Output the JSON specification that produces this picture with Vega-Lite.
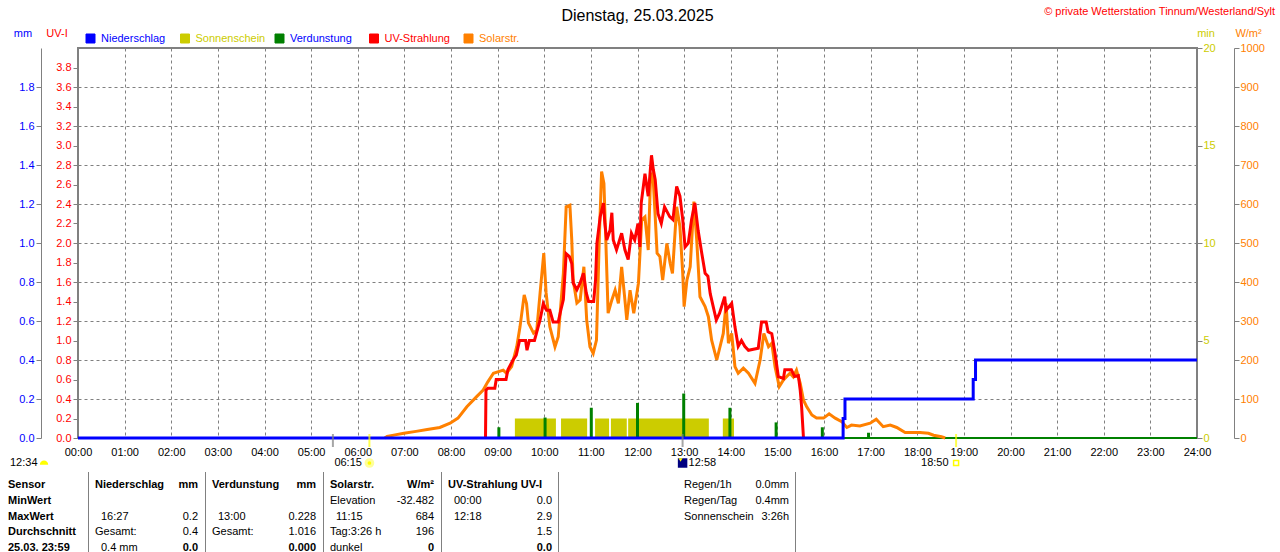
{
  "$schema": "https://vega.github.io/schema/vega-lite/v6.json",
  "width": 1119,
  "height": 390,
  "autosize": {"type": "none"},
  "padding": {"left": 78, "top": 48, "right": 83, "bottom": 114},
  "background": "#ffffff",
  "title": {"text": "Dienstag, 25.03.2025", "fontSize": 16, "fontWeight": "normal", "font": "Liberation Sans", "color": "#000000", "anchor": "middle", "frame": "group", "offset": -18},
  "config": {
    "font": "Liberation Sans",
    "view": {"stroke": "#808080", "strokeWidth": 2},
    "axis": {"labelFont": "Liberation Sans", "titleFont": "Liberation Sans", "labelFontSize": 11, "titleFontSize": 11, "titleFontWeight": "normal", "domainColor": "#808080", "tickColor": "#808080", "gridColor": "#808080", "gridOpacity": 1, "labelOverlap": false, "labelFlush": false, "labelBound": false},
    "legend": {"labelFont": "Liberation Sans", "labelFontSize": 11},
    "text": {"font": "Liberation Sans", "fontSize": 11}
  },
  "resolve": {"scale": {"x": "independent", "y": "independent"}, "axis": {"x": "independent", "y": "independent"}},
  "datasets": {
    "sonnenschein": [
      {"beginn": 9.37, "ende": 10.25, "minuten": 1},
      {"beginn": 10.36, "ende": 10.92, "minuten": 1},
      {"beginn": 11.09, "ende": 11.39, "minuten": 1},
      {"beginn": 11.43, "ende": 11.77, "minuten": 1},
      {"beginn": 11.8, "ende": 13.53, "minuten": 1},
      {"beginn": 13.83, "ende": 14.07, "minuten": 1}
    ],
    "verdunstung": [
      {"h": 9, "mm": 0.055}, {"h": 10, "mm": 0.105}, {"h": 11, "mm": 0.155}, {"h": 12, "mm": 0.18},
      {"h": 13, "mm": 0.228}, {"h": 14, "mm": 0.155}, {"h": 15, "mm": 0.08}, {"h": 16, "mm": 0.055}, {"h": 17, "mm": 0.027}
    ],
    "solar": [
      {"h": 6.58, "w": 0}, {"h": 6.63, "w": 4}, {"h": 6.8, "w": 8}, {"h": 6.99, "w": 12}, {"h": 7.25, "w": 17},
      {"h": 7.49, "w": 22}, {"h": 7.76, "w": 27}, {"h": 7.98, "w": 38}, {"h": 8.15, "w": 51}, {"h": 8.34, "w": 80},
      {"h": 8.55, "w": 106}, {"h": 8.69, "w": 123}, {"h": 8.79, "w": 144}, {"h": 8.91, "w": 166}, {"h": 9.12, "w": 174},
      {"h": 9.19, "w": 166}, {"h": 9.3, "w": 183}, {"h": 9.41, "w": 234}, {"h": 9.48, "w": 285}, {"h": 9.57, "w": 367},
      {"h": 9.62, "w": 345}, {"h": 9.66, "w": 295}, {"h": 9.77, "w": 269}, {"h": 9.84, "w": 277}, {"h": 9.91, "w": 371},
      {"h": 9.99, "w": 474}, {"h": 10.04, "w": 372}, {"h": 10.12, "w": 285}, {"h": 10.23, "w": 234}, {"h": 10.3, "w": 260},
      {"h": 10.41, "w": 422}, {"h": 10.47, "w": 593}, {"h": 10.55, "w": 597}, {"h": 10.59, "w": 508}, {"h": 10.62, "w": 405},
      {"h": 10.7, "w": 346}, {"h": 10.77, "w": 354}, {"h": 10.85, "w": 439}, {"h": 10.91, "w": 303}, {"h": 10.98, "w": 234},
      {"h": 11.05, "w": 217}, {"h": 11.12, "w": 251}, {"h": 11.18, "w": 508}, {"h": 11.23, "w": 683}, {"h": 11.28, "w": 653},
      {"h": 11.32, "w": 508}, {"h": 11.37, "w": 320}, {"h": 11.45, "w": 354}, {"h": 11.52, "w": 379}, {"h": 11.59, "w": 345},
      {"h": 11.66, "w": 439}, {"h": 11.73, "w": 354}, {"h": 11.77, "w": 303}, {"h": 11.84, "w": 379}, {"h": 11.92, "w": 320},
      {"h": 12.02, "w": 397}, {"h": 12.09, "w": 559}, {"h": 12.16, "w": 567}, {"h": 12.23, "w": 482}, {"h": 12.28, "w": 670},
      {"h": 12.33, "w": 679}, {"h": 12.38, "w": 567}, {"h": 12.42, "w": 474}, {"h": 12.48, "w": 465}, {"h": 12.54, "w": 405},
      {"h": 12.63, "w": 499}, {"h": 12.7, "w": 448}, {"h": 12.75, "w": 422}, {"h": 12.84, "w": 593}, {"h": 12.91, "w": 542},
      {"h": 12.97, "w": 422}, {"h": 13.0, "w": 337}, {"h": 13.06, "w": 405}, {"h": 13.13, "w": 439}, {"h": 13.21, "w": 606},
      {"h": 13.27, "w": 508}, {"h": 13.34, "w": 362}, {"h": 13.45, "w": 337}, {"h": 13.52, "w": 311}, {"h": 13.59, "w": 251},
      {"h": 13.7, "w": 200}, {"h": 13.77, "w": 234}, {"h": 13.84, "w": 268}, {"h": 13.9, "w": 345}, {"h": 13.95, "w": 243},
      {"h": 14.02, "w": 268}, {"h": 14.09, "w": 183}, {"h": 14.16, "w": 166}, {"h": 14.27, "w": 179}, {"h": 14.38, "w": 166},
      {"h": 14.52, "w": 140}, {"h": 14.63, "w": 200}, {"h": 14.71, "w": 268}, {"h": 14.81, "w": 234}, {"h": 14.88, "w": 243},
      {"h": 14.95, "w": 183}, {"h": 15.04, "w": 132}, {"h": 15.13, "w": 149}, {"h": 15.27, "w": 166}, {"h": 15.34, "w": 157},
      {"h": 15.41, "w": 174}, {"h": 15.49, "w": 140}, {"h": 15.56, "w": 97}, {"h": 15.63, "w": 80}, {"h": 15.74, "w": 59},
      {"h": 15.84, "w": 51}, {"h": 15.99, "w": 51}, {"h": 16.11, "w": 62}, {"h": 16.24, "w": 51}, {"h": 16.38, "w": 42},
      {"h": 16.49, "w": 27}, {"h": 16.59, "w": 33}, {"h": 16.77, "w": 31}, {"h": 16.99, "w": 38}, {"h": 17.12, "w": 48},
      {"h": 17.27, "w": 29}, {"h": 17.42, "w": 33}, {"h": 17.56, "w": 27}, {"h": 17.74, "w": 14}, {"h": 18.06, "w": 14},
      {"h": 18.24, "w": 12}, {"h": 18.35, "w": 7}, {"h": 18.52, "w": 3}, {"h": 18.6, "w": 0}
    ],
    "uv": [
      {"h": 8.74, "uv": 0}, {"h": 8.75, "uv": 0.49}, {"h": 8.79, "uv": 0.51}, {"h": 8.94, "uv": 0.51}, {"h": 8.97, "uv": 0.6},
      {"h": 9.18, "uv": 0.6}, {"h": 9.22, "uv": 0.7}, {"h": 9.33, "uv": 0.8}, {"h": 9.4, "uv": 0.85}, {"h": 9.47, "uv": 1.0},
      {"h": 9.6, "uv": 1.0}, {"h": 9.63, "uv": 0.9}, {"h": 9.68, "uv": 1.0}, {"h": 9.79, "uv": 1.0}, {"h": 9.83, "uv": 1.07},
      {"h": 9.91, "uv": 1.21}, {"h": 9.98, "uv": 1.38}, {"h": 10.05, "uv": 1.31}, {"h": 10.12, "uv": 1.31}, {"h": 10.19, "uv": 1.19},
      {"h": 10.3, "uv": 1.19}, {"h": 10.35, "uv": 1.3}, {"h": 10.41, "uv": 1.42}, {"h": 10.47, "uv": 1.89}, {"h": 10.54, "uv": 1.86},
      {"h": 10.59, "uv": 1.79}, {"h": 10.62, "uv": 1.59}, {"h": 10.7, "uv": 1.52}, {"h": 10.77, "uv": 1.59}, {"h": 10.84, "uv": 1.69},
      {"h": 10.9, "uv": 1.49}, {"h": 10.95, "uv": 1.4}, {"h": 11.06, "uv": 1.4}, {"h": 11.1, "uv": 1.62}, {"h": 11.13, "uv": 2.0},
      {"h": 11.2, "uv": 2.27}, {"h": 11.27, "uv": 2.41}, {"h": 11.3, "uv": 2.2}, {"h": 11.34, "uv": 2.03}, {"h": 11.41, "uv": 2.13},
      {"h": 11.45, "uv": 2.31}, {"h": 11.48, "uv": 2.03}, {"h": 11.55, "uv": 1.93}, {"h": 11.66, "uv": 2.1}, {"h": 11.73, "uv": 1.93},
      {"h": 11.8, "uv": 1.83}, {"h": 11.87, "uv": 2.1}, {"h": 11.94, "uv": 2.03}, {"h": 12.01, "uv": 2.2}, {"h": 12.05, "uv": 1.96},
      {"h": 12.08, "uv": 2.41}, {"h": 12.16, "uv": 2.71}, {"h": 12.23, "uv": 2.48}, {"h": 12.3, "uv": 2.9}, {"h": 12.34, "uv": 2.75},
      {"h": 12.38, "uv": 2.65}, {"h": 12.44, "uv": 2.3}, {"h": 12.51, "uv": 2.2}, {"h": 12.58, "uv": 2.37}, {"h": 12.69, "uv": 2.27},
      {"h": 12.76, "uv": 2.24}, {"h": 12.84, "uv": 2.58}, {"h": 12.91, "uv": 2.48}, {"h": 12.97, "uv": 2.24}, {"h": 13.02, "uv": 1.96},
      {"h": 13.09, "uv": 2.0}, {"h": 13.16, "uv": 2.24}, {"h": 13.23, "uv": 2.41}, {"h": 13.3, "uv": 2.13}, {"h": 13.38, "uv": 1.89},
      {"h": 13.45, "uv": 1.69}, {"h": 13.51, "uv": 1.66}, {"h": 13.56, "uv": 1.48}, {"h": 13.69, "uv": 1.21}, {"h": 13.76, "uv": 1.28},
      {"h": 13.87, "uv": 1.45}, {"h": 13.9, "uv": 1.31}, {"h": 14.02, "uv": 1.38}, {"h": 14.09, "uv": 1.14}, {"h": 14.16, "uv": 0.94},
      {"h": 14.23, "uv": 1.0}, {"h": 14.3, "uv": 0.94}, {"h": 14.38, "uv": 0.9}, {"h": 14.59, "uv": 0.92}, {"h": 14.66, "uv": 1.19},
      {"h": 14.76, "uv": 1.19}, {"h": 14.8, "uv": 1.09}, {"h": 14.88, "uv": 1.07}, {"h": 14.95, "uv": 0.87}, {"h": 15.02, "uv": 0.63},
      {"h": 15.13, "uv": 0.61}, {"h": 15.16, "uv": 0.7}, {"h": 15.3, "uv": 0.7}, {"h": 15.37, "uv": 0.63}, {"h": 15.45, "uv": 0.64},
      {"h": 15.49, "uv": 0.49}, {"h": 15.52, "uv": 0.32}, {"h": 15.56, "uv": 0}
    ],
    "niederschlag": [
      {"h": 0, "mm": 0}, {"h": 16.41, "mm": 0.1}, {"h": 16.45, "mm": 0.2}, {"h": 19.2, "mm": 0.3}, {"h": 19.25, "mm": 0.4}, {"h": 24, "mm": 0.4}
    ],
    "ereignisse": [
      {"zeit": 5.467, "uhrzeit": "05:28", "art": "Mondaufgang"},
      {"zeit": 6.25, "uhrzeit": "06:15", "art": "Sonnenaufgang"},
      {"zeit": 12.967, "uhrzeit": "12:58", "art": "Monduntergang"},
      {"zeit": 18.833, "uhrzeit": "18:50", "art": "Sonnenuntergang"}
    ],
    "tabelle": [
      {"zeile": 0, "spalte": 0, "text": "Sensor"},
      {"zeile": 0, "spalte": 1, "text": "Niederschlag"},
      {"zeile": 0, "spalte": 2, "text": "mm"},
      {"zeile": 0, "spalte": 3, "text": "Verdunstung"},
      {"zeile": 0, "spalte": 4, "text": "mm"},
      {"zeile": 0, "spalte": 5, "text": "Solarstr."},
      {"zeile": 0, "spalte": 6, "text": "W/m²"},
      {"zeile": 0, "spalte": 7, "text": "UV-Strahlung UV-I"},
      {"zeile": 0, "spalte": 9, "text": "Regen/1h"},
      {"zeile": 0, "spalte": 10, "text": "0.0mm"},
      {"zeile": 1, "spalte": 0, "text": "MinWert"},
      {"zeile": 1, "spalte": 5, "text": "Elevation"},
      {"zeile": 1, "spalte": 6, "text": "-32.482"},
      {"zeile": 1, "spalte": 7, "text": "00:00"},
      {"zeile": 1, "spalte": 8, "text": "0.0"},
      {"zeile": 1, "spalte": 9, "text": "Regen/Tag"},
      {"zeile": 1, "spalte": 10, "text": "0.4mm"},
      {"zeile": 2, "spalte": 0, "text": "MaxWert"},
      {"zeile": 2, "spalte": 1, "text": "16:27"},
      {"zeile": 2, "spalte": 2, "text": "0.2"},
      {"zeile": 2, "spalte": 3, "text": "13:00"},
      {"zeile": 2, "spalte": 4, "text": "0.228"},
      {"zeile": 2, "spalte": 5, "text": "11:15"},
      {"zeile": 2, "spalte": 6, "text": "684"},
      {"zeile": 2, "spalte": 7, "text": "12:18"},
      {"zeile": 2, "spalte": 8, "text": "2.9"},
      {"zeile": 2, "spalte": 9, "text": "Sonnenschein"},
      {"zeile": 2, "spalte": 10, "text": "3:26h"},
      {"zeile": 3, "spalte": 0, "text": "Durchschnitt"},
      {"zeile": 3, "spalte": 1, "text": "Gesamt:"},
      {"zeile": 3, "spalte": 2, "text": "0.4"},
      {"zeile": 3, "spalte": 3, "text": "Gesamt:"},
      {"zeile": 3, "spalte": 4, "text": "1.016"},
      {"zeile": 3, "spalte": 5, "text": "Tag:3:26 h"},
      {"zeile": 3, "spalte": 6, "text": "196"},
      {"zeile": 3, "spalte": 8, "text": "1.5"},
      {"zeile": 4, "spalte": 0, "text": "25.03. 23:59"},
      {"zeile": 4, "spalte": 1, "text": "0.4 mm"},
      {"zeile": 4, "spalte": 2, "text": "0.0"},
      {"zeile": 4, "spalte": 4, "text": "0.000"},
      {"zeile": 4, "spalte": 5, "text": "dunkel"},
      {"zeile": 4, "spalte": 6, "text": "0"},
      {"zeile": 4, "spalte": 8, "text": "0.0"}
    ],
    "trenner_links": [{"spalte": 1}, {"spalte": 3}, {"spalte": 5}, {"spalte": 7}],
    "trenner_rechts": [{"spalte": 8}, {"spalte": 10}]
  },
  "layer": [
    {
      "data": {"name": "sonnenschein"},
      "mark": {"type": "rect"},
      "encoding": {
        "x": {"field": "beginn", "type": "quantitative", "scale": {"domain": [0, 24], "nice": false, "zero": false},
          "axis": {"orient": "bottom", "values": [0,1,2,3,4,5,6,7,8,9,10,11,12,13,14,15,16,17,18,19,20,21,22,23,24],
            "labelExpr": "(datum.value < 10 ? '0' : '') + datum.value + ':00'", "grid": true, "gridDash": [3, 3],
            "ticks": false, "domain": false, "labelPadding": 8, "title": null, "labelColor": "#000000"}},
        "x2": {"field": "ende"},
        "y": {"field": "minuten", "type": "quantitative", "scale": {"domain": [0, 20], "nice": false, "zero": true},
          "axis": {"orient": "right", "offset": 0, "values": [0, 5, 10, 15, 20], "title": "min", "titleColor": "#cccc00",
            "labelColor": "#cccc00", "domain": false, "tickSize": 5, "labelPadding": 1, "grid": false,
            "titleAngle": 0, "titleX": 8.5, "titleY": -15, "titleAlign": "center", "titleBaseline": "middle"}},
        "y2": {"datum": 0},
        "color": {"datum": "Sonnenschein", "type": "nominal",
          "scale": {"domain": ["Niederschlag", "Sonnenschein", "Verdunstung", "UV-Strahlung", "Solarstr."],
                    "range": ["#0000ff", "#cccc00", "#008000", "#ff0000", "#ff8000"]},
          "legend": {"title": null, "orient": "none", "legendX": 7, "legendY": -15, "direction": "horizontal",
            "columns": 5, "gridAlign": "all", "columnPadding": 7.5, "symbolType": "square", "symbolSize": 81,
            "symbolStrokeColor": "#000000", "symbolStrokeWidth": 1, "symbolOpacity": 1, "labelOffset": 5,
            "labelFontSize": 11, "padding": 0,
            "encode": {
              "symbols": {"update": {"fill": {"scale": "color", "field": "value"}, "stroke": {"value": "#000000"},
                "strokeWidth": {"value": 1}, "shape": {"value": "square"}, "opacity": {"value": 1}}},
              "labels": {"update": {"fill": {"signal": "datum.value === 'Verdunstung' ? '#0000ff' : scale('color', datum.value)"}}}
            }}}
      }
    },
    {
      "data": {"name": "verdunstung"},
      "mark": {"type": "bar", "width": 3},
      "encoding": {
        "x": {"field": "h", "type": "quantitative", "scale": {"domain": [0, 24], "nice": false, "zero": false}, "axis": null},
        "y": {"field": "mm", "type": "quantitative", "scale": {"domain": [0, 2], "nice": false}, "axis": null},
        "color": {"datum": "Verdunstung", "type": "nominal"}
      }
    },
    {
      "data": {"values": [{}]},
      "mark": {"type": "rule", "color": "#008000", "strokeWidth": 2},
      "encoding": {
        "y": {"datum": 0, "type": "quantitative", "scale": {"domain": [0, 2], "nice": false}, "axis": null}
      }
    },
    {
      "data": {"name": "solar"},
      "mark": {"type": "line", "strokeWidth": 3},
      "encoding": {
        "x": {"field": "h", "type": "quantitative", "scale": {"domain": [0, 24], "nice": false, "zero": false}, "axis": null},
        "y": {"field": "w", "type": "quantitative", "scale": {"domain": [0, 1000], "nice": false},
          "axis": {"orient": "right", "offset": 37, "values": [0,100,200,300,400,500,600,700,800,900,1000], "format": "d", "grid": true,
            "gridDash": [3, 3], "labelColor": "#ff8000", "title": "W/m²", "titleColor": "#ff8000", "titleAngle": 0,
            "titleX": 14, "titleY": -15, "titleAlign": "center", "titleBaseline": "middle", "tickSize": 5, "labelPadding": 1}},
        "color": {"datum": "Solarstr.", "type": "nominal"}
      }
    },
    {
      "data": {"name": "uv"},
      "mark": {"type": "line", "strokeWidth": 3},
      "encoding": {
        "x": {"field": "h", "type": "quantitative", "scale": {"domain": [0, 24], "nice": false, "zero": false}, "axis": null},
        "y": {"field": "uv", "type": "quantitative", "scale": {"domain": [0, 4], "nice": false},
          "axis": {"orient": "left", "offset": 0, "values": [0,0.2,0.4,0.6,0.8,1,1.2,1.4,1.6,1.8,2,2.2,2.4,2.6,2.8,3,3.2,3.4,3.6,3.8],
            "format": ".1f", "labelColor": "#ff0000", "title": "UV-I", "titleColor": "#ff0000", "titleAngle": 0,
            "titleX": -21.5, "titleY": -15, "titleAlign": "center", "titleBaseline": "middle", "tickSize": 5,
            "labelPadding": 2, "domain": false, "grid": false}},
        "color": {"datum": "UV-Strahlung", "type": "nominal"}
      }
    },
    {
      "data": {"name": "niederschlag"},
      "mark": {"type": "line", "strokeWidth": 3, "interpolate": "step-after"},
      "encoding": {
        "x": {"field": "h", "type": "quantitative", "scale": {"domain": [0, 24], "nice": false, "zero": false}, "axis": null},
        "y": {"field": "mm", "type": "quantitative", "scale": {"domain": [0, 2], "nice": false},
          "axis": {"orient": "left", "offset": 37, "values": [0,0.2,0.4,0.6,0.8,1,1.2,1.4,1.6,1.8], "format": ".1f",
            "labelColor": "#0000ff", "title": "mm", "titleColor": "#0000ff", "titleAngle": 0, "titleX": -18.5,
            "titleY": -15, "titleAlign": "center", "titleBaseline": "middle", "tickSize": 5, "labelPadding": 2, "grid": false}},
        "color": {"datum": "Niederschlag", "type": "nominal"}
      }
    },
    {
      "data": {"name": "ereignisse"},
      "mark": {"type": "tick", "orient": "vertical", "thickness": 2, "size": 13, "yOffset": 2.5},
      "encoding": {
        "x": {"field": "zeit", "type": "quantitative", "scale": {"domain": [0, 24], "nice": false, "zero": false}, "axis": null},
        "y": {"datum": 0, "type": "quantitative", "scale": {"domain": [0, 2], "nice": false}, "axis": null},
        "color": {"condition": {"test": "indexof(datum.art, 'Sonne') == 0", "value": "#ffff00"}, "value": "#808080"}
      }
    },
    {
      "data": {"name": "ereignisse"},
      "transform": [{"filter": "datum.art == 'Sonnenaufgang'"}],
      "mark": {"type": "point", "shape": "circle", "filled": true, "size": 45, "fill": "#ffff00", "stroke": "#ffff99", "strokeWidth": 3, "opacity": 1, "yOffset": 25},
      "encoding": {
        "x": {"field": "zeit", "type": "quantitative", "scale": {"domain": [0, 24], "nice": false, "zero": false}, "axis": null},
        "y": {"datum": 0, "type": "quantitative", "scale": {"domain": [0, 2], "nice": false}, "axis": null}
      }
    },
    {
      "data": {"name": "ereignisse"},
      "transform": [{"filter": "datum.art == 'Sonnenuntergang'"}],
      "mark": {"type": "point", "shape": "square", "filled": false, "size": 25, "stroke": "#ffff00", "strokeWidth": 1.5, "opacity": 1, "yOffset": 25},
      "encoding": {
        "x": {"field": "zeit", "type": "quantitative", "scale": {"domain": [0, 24], "nice": false, "zero": false}, "axis": null},
        "y": {"datum": 0, "type": "quantitative", "scale": {"domain": [0, 2], "nice": false}, "axis": null}
      }
    },
    {
      "data": {"name": "ereignisse"},
      "transform": [{"filter": "datum.art == 'Monduntergang'"}],
      "mark": {"type": "point", "shape": "square", "filled": true, "size": 90, "fill": "#000080", "opacity": 1, "yOffset": 25},
      "encoding": {
        "x": {"field": "zeit", "type": "quantitative", "scale": {"domain": [0, 24], "nice": false, "zero": false}, "axis": null},
        "y": {"datum": 0, "type": "quantitative", "scale": {"domain": [0, 2], "nice": false}, "axis": null}
      }
    },
    {
      "data": {"name": "ereignisse"},
      "transform": [{"filter": "datum.art == 'Monduntergang'"}],
      "mark": {"type": "point", "shape": "triangle-down", "filled": true, "size": 16, "fill": "#ffff00", "opacity": 1, "xOffset": -2, "yOffset": 22},
      "encoding": {
        "x": {"field": "zeit", "type": "quantitative", "scale": {"domain": [0, 24], "nice": false, "zero": false}, "axis": null},
        "y": {"datum": 0, "type": "quantitative", "scale": {"domain": [0, 2], "nice": false}, "axis": null}
      }
    },
    {
      "data": {"name": "ereignisse"},
      "transform": [{"filter": "indexof(datum.art, 'Sonne') == 0"}],
      "mark": {"type": "text", "align": "right", "baseline": "middle", "dx": -7.5, "dy": 25, "fontSize": 11, "color": "#000000"},
      "encoding": {
        "x": {"field": "zeit", "type": "quantitative", "scale": {"domain": [0, 24], "nice": false, "zero": false}, "axis": null},
        "y": {"datum": 0, "type": "quantitative", "scale": {"domain": [0, 2], "nice": false}, "axis": null},
        "text": {"field": "uhrzeit"}
      }
    },
    {
      "data": {"name": "ereignisse"},
      "transform": [{"filter": "datum.art == 'Monduntergang'"}],
      "mark": {"type": "text", "align": "left", "baseline": "middle", "dx": 6, "dy": 25, "fontSize": 11, "color": "#000000"},
      "encoding": {
        "x": {"field": "zeit", "type": "quantitative", "scale": {"domain": [0, 24], "nice": false, "zero": false}, "axis": null},
        "y": {"datum": 0, "type": "quantitative", "scale": {"domain": [0, 2], "nice": false}, "axis": null},
        "text": {"field": "uhrzeit"}
      }
    },
    {
      "data": {"values": [{"tageslaenge": "12:34"}]},
      "mark": {"type": "text", "align": "left", "baseline": "middle", "dx": -68, "dy": 25, "fontSize": 11, "color": "#000000"},
      "encoding": {
        "x": {"datum": 0, "type": "quantitative", "scale": {"domain": [0, 24], "nice": false, "zero": false}, "axis": null},
        "y": {"datum": 0, "type": "quantitative", "scale": {"domain": [0, 2], "nice": false}, "axis": null},
        "text": {"field": "tageslaenge"}
      }
    },
    {
      "data": {"values": [{"tageslaenge": "12:34"}]},
      "mark": {"type": "point", "shape": "M -1 0.4 A 1 1 0 0 1 1 0.4 Z", "filled": true, "size": 70, "fill": "#ffff00", "opacity": 1, "xOffset": -34, "yOffset": 25},
      "encoding": {
        "x": {"datum": 0, "type": "quantitative", "scale": {"domain": [0, 24], "nice": false, "zero": false}, "axis": null},
        "y": {"datum": 0, "type": "quantitative", "scale": {"domain": [0, 2], "nice": false}, "axis": null}
      }
    },
    {
      "data": {"values": [{"text": "© private Wetterstation Tinnum/Westerland/Sylt"}]},
      "mark": {"type": "text", "align": "right", "baseline": "middle", "dx": 78, "dy": -36, "fontSize": 11, "color": "#ff0000"},
      "encoding": {
        "x": {"datum": 24, "type": "quantitative", "scale": {"domain": [0, 24], "nice": false, "zero": false}, "axis": null},
        "y": {"datum": 2, "type": "quantitative", "scale": {"domain": [0, 2], "nice": false}, "axis": null},
        "text": {"field": "text"}
      }
    },
    {
      "data": {"name": "tabelle"},
      "transform": [{"filter": "datum.spalte % 2 == 1 && !(datum.zeile == 0 && datum.spalte < 9) && !test(/^[0-9]/, datum.text)"}],
      "mark": {"type": "text", "align": "left", "baseline": "middle", "fontSize": 11, "color": "#000000"},
      "encoding": {
        "x": {"field": "spalte", "type": "quantitative", "scale": {"domain": [0,1,2,3,4,5,6,7,8,9,10], "range": [-70,17,120,134,238,252,356,370,474,606,711], "nice": false, "zero": false}, "axis": null},
        "y": {"field": "zeile", "type": "quantitative", "scale": {"domain": [0, 4], "range": [437, 500], "nice": false, "zero": false}, "axis": null},
        "text": {"field": "text"}
      }
    },
    {
      "data": {"name": "tabelle"},
      "transform": [{"filter": "datum.spalte % 2 == 1 && !(datum.zeile == 0 && datum.spalte < 9) && test(/^[0-9]/, datum.text)"}],
      "mark": {"type": "text", "align": "left", "baseline": "middle", "fontSize": 11, "color": "#000000", "dx": 6},
      "encoding": {
        "x": {"field": "spalte", "type": "quantitative", "scale": {"domain": [0,1,2,3,4,5,6,7,8,9,10], "range": [-70,17,120,134,238,252,356,370,474,606,711], "nice": false, "zero": false}, "axis": null},
        "y": {"field": "zeile", "type": "quantitative", "scale": {"domain": [0, 4], "range": [437, 500], "nice": false, "zero": false}, "axis": null},
        "text": {"field": "text"}
      }
    },
    {
      "data": {"name": "tabelle"},
      "transform": [{"filter": "datum.spalte == 0 || (datum.spalte % 2 == 1 && datum.zeile == 0 && datum.spalte < 9)"}],
      "mark": {"type": "text", "align": "left", "baseline": "middle", "fontSize": 11, "fontWeight": "bold", "color": "#000000"},
      "encoding": {
        "x": {"field": "spalte", "type": "quantitative", "scale": {"domain": [0,1,2,3,4,5,6,7,8,9,10], "range": [-70,17,120,134,238,252,356,370,474,606,711], "nice": false, "zero": false}, "axis": null},
        "y": {"field": "zeile", "type": "quantitative", "scale": {"domain": [0, 4], "range": [437, 500], "nice": false, "zero": false}, "axis": null},
        "text": {"field": "text"}
      }
    },
    {
      "data": {"name": "tabelle"},
      "transform": [{"filter": "datum.spalte > 0 && datum.spalte % 2 == 0 && !(datum.zeile == 0 && datum.spalte < 9) && datum.zeile != 4"}],
      "mark": {"type": "text", "align": "right", "baseline": "middle", "fontSize": 11, "color": "#000000"},
      "encoding": {
        "x": {"field": "spalte", "type": "quantitative", "scale": {"domain": [0,1,2,3,4,5,6,7,8,9,10], "range": [-70,17,120,134,238,252,356,370,474,606,711], "nice": false, "zero": false}, "axis": null},
        "y": {"field": "zeile", "type": "quantitative", "scale": {"domain": [0, 4], "range": [437, 500], "nice": false, "zero": false}, "axis": null},
        "text": {"field": "text"}
      }
    },
    {
      "data": {"name": "tabelle"},
      "transform": [{"filter": "datum.spalte > 0 && datum.spalte % 2 == 0 && ((datum.zeile == 0 && datum.spalte < 9) || datum.zeile == 4)"}],
      "mark": {"type": "text", "align": "right", "baseline": "middle", "fontSize": 11, "fontWeight": "bold", "color": "#000000"},
      "encoding": {
        "x": {"field": "spalte", "type": "quantitative", "scale": {"domain": [0,1,2,3,4,5,6,7,8,9,10], "range": [-70,17,120,134,238,252,356,370,474,606,711], "nice": false, "zero": false}, "axis": null},
        "y": {"field": "zeile", "type": "quantitative", "scale": {"domain": [0, 4], "range": [437, 500], "nice": false, "zero": false}, "axis": null},
        "text": {"field": "text"}
      }
    },
    {
      "data": {"name": "trenner_links"},
      "mark": {"type": "rule", "color": "#808080", "strokeWidth": 1, "xOffset": -6.5, "yOffset": -13, "y2Offset": 4},
      "encoding": {
        "x": {"field": "spalte", "type": "quantitative", "scale": {"domain": [0,1,2,3,4,5,6,7,8,9,10], "range": [-70,17,120,134,238,252,356,370,474,606,711], "nice": false, "zero": false}, "axis": null},
        "y": {"datum": 0, "type": "quantitative", "scale": {"domain": [0, 4], "range": [437, 500], "nice": false, "zero": false}, "axis": null},
        "y2": {"datum": 4}
      }
    },
    {
      "data": {"name": "trenner_rechts"},
      "mark": {"type": "rule", "color": "#808080", "strokeWidth": 1, "xOffset": 6.5, "yOffset": -13, "y2Offset": 4},
      "encoding": {
        "x": {"field": "spalte", "type": "quantitative", "scale": {"domain": [0,1,2,3,4,5,6,7,8,9,10], "range": [-70,17,120,134,238,252,356,370,474,606,711], "nice": false, "zero": false}, "axis": null},
        "y": {"datum": 0, "type": "quantitative", "scale": {"domain": [0, 4], "range": [437, 500], "nice": false, "zero": false}, "axis": null},
        "y2": {"datum": 4}
      }
    }
  ]
}
